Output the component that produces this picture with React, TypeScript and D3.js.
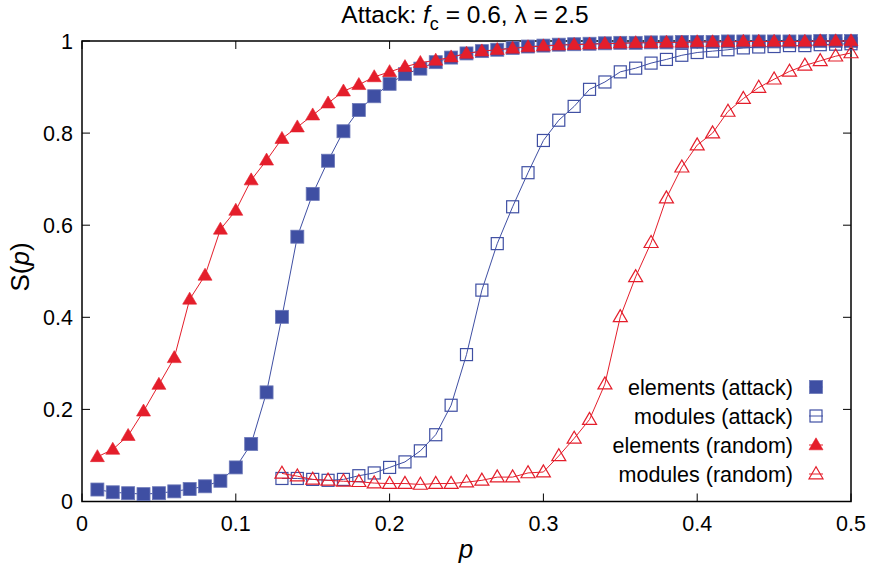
import React from "react";
import * as d3 from "d3";

const P = [0.01,0.02,0.03,0.04,0.05,0.06,0.07,0.08,0.09,0.10,0.11,0.12,0.13,0.14,0.15,0.16,0.17,0.18,0.19,0.20,0.21,0.22,0.23,0.24,0.25,0.26,0.27,0.28,0.29,0.30,0.31,0.32,0.33,0.34,0.35,0.36,0.37,0.38,0.39,0.40,0.41,0.42,0.43,0.44,0.45,0.46,0.47,0.48,0.49,0.50];
const P_MOD = P.slice(12);

const elementsAttack = [0.026,0.020,0.018,0.016,0.018,0.022,0.027,0.033,0.045,0.074,0.125,0.237,0.401,0.575,0.668,0.740,0.804,0.850,0.880,0.907,0.928,0.940,0.954,0.964,0.973,0.978,0.981,0.985,0.988,0.990,0.992,0.993,0.994,0.995,0.996,0.996,0.997,0.997,0.998,0.998,0.998,0.999,0.999,0.999,0.999,0.999,0.999,1.0,1.0,1.0];
const elementsRandom = [0.097,0.113,0.143,0.196,0.254,0.312,0.439,0.491,0.591,0.632,0.698,0.741,0.788,0.813,0.839,0.865,0.891,0.905,0.922,0.933,0.944,0.953,0.958,0.965,0.973,0.978,0.981,0.984,0.987,0.989,0.991,0.992,0.993,0.994,0.995,0.996,0.996,0.997,0.997,0.998,0.998,0.998,0.999,0.999,0.999,0.999,0.999,1.0,1.0,1.0];
const modulesAttack = [0.050,0.050,0.048,0.046,0.048,0.056,0.062,0.074,0.086,0.110,0.145,0.209,0.319,0.459,0.560,0.640,0.714,0.784,0.828,0.858,0.895,0.911,0.933,0.941,0.952,0.960,0.969,0.975,0.978,0.981,0.985,0.987,0.988,0.990,0.990,0.992,0.993,0.994];
const modulesRandom = [0.061,0.055,0.048,0.046,0.044,0.043,0.040,0.039,0.039,0.037,0.039,0.039,0.042,0.046,0.053,0.053,0.062,0.064,0.099,0.137,0.178,0.255,0.401,0.488,0.562,0.659,0.726,0.774,0.800,0.847,0.875,0.899,0.917,0.934,0.947,0.957,0.967,0.974];

const xTicks = [0, 0.1, 0.2, 0.3, 0.4, 0.5];
const yTicks = [0, 0.2, 0.4, 0.6, 0.8, 1];
const legendLabels = ["elements (attack)", "modules (attack)", "elements (random)", "modules (random)"];

const BLUE = "#3F4FA3";
const RED = "#E41E2B";
const FONT = "'Liberation Sans', Arial, Helvetica, sans-serif";

type Kind = "fsq" | "osq" | "ftri" | "otri";

function Marker({ x, y, kind, color }: { x: number; y: number; kind: Kind; color: string }) {
  if (kind === "fsq") return <rect x={x - 6.5} y={y - 6.5} width={13} height={13} fill={color} stroke="#6C78B8" strokeWidth={0.8} />;
  if (kind === "osq") return <rect x={x - 6} y={y - 6} width={12} height={12} fill="none" stroke={color} strokeWidth={1.2} />;
  const h = 12, w = 14;
  const pts = `${x},${y - h * 0.6} ${x - w / 2},${y + h * 0.4} ${x + w / 2},${y + h * 0.4}`;
  if (kind === "ftri") return <polygon points={pts} fill={color} stroke={color} strokeWidth={0.6} />;
  return <polygon points={pts} fill="none" stroke={color} strokeWidth={1.2} />;
}

export default function App() {
  const W = 871, H = 568;
  const left = 82, right = 851, top = 41, bottom = 501.5;
  const x = d3.scaleLinear().domain([0, 0.5]).range([left, right]);
  const y = d3.scaleLinear().domain([0, 1]).range([bottom, top]);
  const line = d3.line<[number, number]>().x(d => x(d[0])).y(d => y(d[1]));

  const series: { px: number[]; vals: number[]; kind: Kind; color: string }[] = [
    { px: P, vals: elementsAttack, kind: "fsq", color: BLUE },
    { px: P_MOD, vals: modulesAttack, kind: "osq", color: BLUE },
    { px: P, vals: elementsRandom, kind: "ftri", color: RED },
    { px: P_MOD, vals: modulesRandom, kind: "otri", color: RED },
  ];

  return (
    <svg width={W} height={H} style={{ position: "absolute", left: 0, top: 0 }} fontFamily={FONT}>
      <rect width={W} height={H} fill="white" />
      {xTicks.map(t => (
        <g key={"xt" + t}>
          <line x1={x(t)} x2={x(t)} y1={bottom} y2={bottom - 8} stroke="#000" strokeWidth={1} />
          <line x1={x(t)} x2={x(t)} y1={top} y2={top + 8} stroke="#000" strokeWidth={1} />
          <text x={x(t)} y={531} textAnchor="middle" fontSize={21.5}>{String(t)}</text>
        </g>
      ))}
      {yTicks.map(t => (
        <g key={"yt" + t}>
          <line x1={left} x2={left + 8} y1={y(t)} y2={y(t)} stroke="#000" strokeWidth={1} />
          <line x1={right} x2={right - 8} y1={y(t)} y2={y(t)} stroke="#000" strokeWidth={1} />
          <text x={73} y={y(t) + 7.5} textAnchor="end" fontSize={21.5}>{String(t)}</text>
        </g>
      ))}
      <rect x={left} y={top} width={right - left} height={bottom - top} fill="none" stroke="#000" strokeWidth={1.5} />

      {series.map((s, i) => {
        const pts = s.px.map((p, j) => [p, s.vals[j]] as [number, number]);
        return (
          <g key={"s" + i}>
            <path d={line(pts) || ""} fill="none" stroke={s.color} strokeWidth={1} />
            {pts.map((d, j) => <Marker key={j} x={x(d[0])} y={y(d[1])} kind={s.kind} color={s.color} />)}
          </g>
        );
      })}

      {legendLabels.map((lab, i) => {
        const cy = 387 + i * 29;
        const s = series[i];
        return (
          <g key={"lg" + i}>
            <text x={793} y={cy + 7.5} textAnchor="end" fontSize={21.5}>{lab}</text>
            <line x1={809} x2={823} y1={cy} y2={cy} stroke={s.color} strokeWidth={1} />
            <Marker x={816} y={cy} kind={s.kind} color={s.color} />
          </g>
        );
      })}

      <text x={465} y={23} textAnchor="middle" fontSize={24.5}>
        <tspan>Attack: </tspan>
        <tspan fontStyle="italic">f</tspan>
        <tspan fontSize={18} dy={7}>c</tspan>
        <tspan dy={-7}> = 0.6, λ = 2.5</tspan>
      </text>

      <text x={466} y={558} textAnchor="middle" fontSize={26} fontStyle="italic">p</text>
      <text transform="translate(29,267) rotate(-90)" textAnchor="middle" fontSize={26}>
        <tspan>S(</tspan><tspan fontStyle="italic">p</tspan><tspan>)</tspan>
      </text>
    </svg>
  );
}
